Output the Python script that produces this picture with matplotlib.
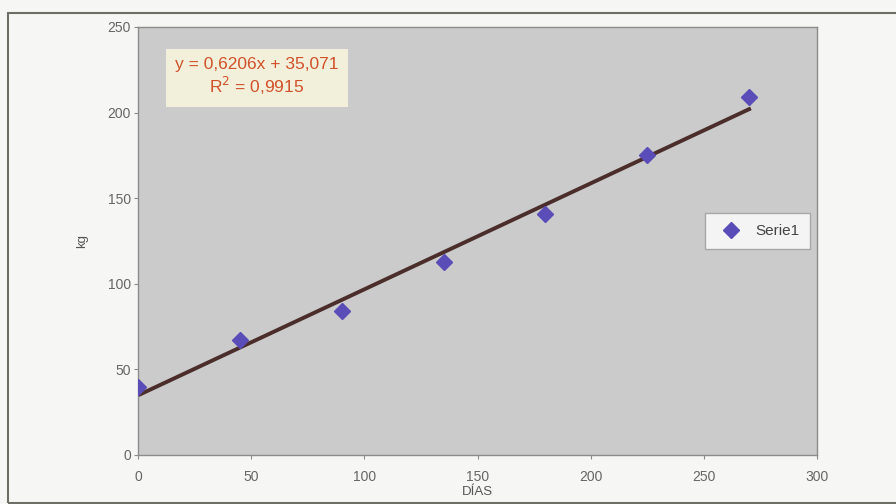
import numpy as np
import matplotlib.pyplot as plt
from matplotlib.patches import Rectangle

plt.rcParams['font.family'] = ['Liberation Sans', 'DejaVu Sans']

# data
dias = [0, 45, 90, 135, 180, 225, 270]
kg = [40, 67, 84, 113, 141, 175, 209]
eq_text = "y = 0,6206x + 35,071\nR$^2$ = 0,9915"

fig = plt.figure(figsize=(8.96, 5.04), dpi=100)
fig.patch.set_facecolor('#f6f6f4')

# outer chart frame (cut off on the right like the scan)
fig.patches.append(Rectangle((8 / 896, 1 - 503 / 504), 1.0, (503 - 13) / 504,
                             transform=fig.transFigure, fill=False,
                             edgecolor='#6e6e66', linewidth=1.5))

ax = fig.add_axes([138 / 896, 1 - 455 / 504, 679 / 896, 428 / 504])
ax.set_facecolor('#cbcbcb')

# trend line from a least squares fit
coef = np.polyfit(dias, kg, 1)
xl = np.array([dias[0], dias[-1]])
ax.plot(xl, np.polyval(coef, xl), color='#4b2e2b', linewidth=2.8, zorder=2)
ax.plot(dias, kg, linestyle='none', marker='D', markersize=8,
        color='#5a4db8', label='Serie1', zorder=3)

ax.set_xlim(0, 300)
ax.set_ylim(0, 250)
ax.set_xticks(range(0, 301, 50))
ax.set_yticks(range(0, 251, 50))
ax.tick_params(colors='#8a8a8a', labelcolor='#666666', labelsize=10,
               length=3, direction='out')
ax.tick_params(axis='x', pad=8)
ax.tick_params(axis='y', pad=2)
for s in ax.spines.values():
    s.set_color('#8c8c8c')
    s.set_linewidth(1)

ax.set_xlabel('DÍAS', fontsize=9.5, color='#555555', labelpad=1)
ax.set_ylabel('kg', fontsize=9.5, color='#555555', labelpad=14)

ax.text(0.175, 0.883, eq_text, transform=ax.transAxes, ha='center', va='center',
        fontsize=12.5, color='#d2502a', linespacing=1.15,
        bbox=dict(boxstyle='square,pad=0.55', facecolor='#f2f0da',
                  edgecolor='none'))

leg = ax.legend(loc='center right', bbox_to_anchor=(0.99, 0.523), fontsize=11,
                frameon=True, fancybox=False, borderpad=0.7, handletextpad=0.6,
                borderaxespad=0)
leg.get_frame().set_edgecolor('#9a9a9a')
leg.get_frame().set_facecolor('white')
for t in leg.get_texts():
    t.set_color('#444444')

plt.savefig('out.png', dpi=100)
